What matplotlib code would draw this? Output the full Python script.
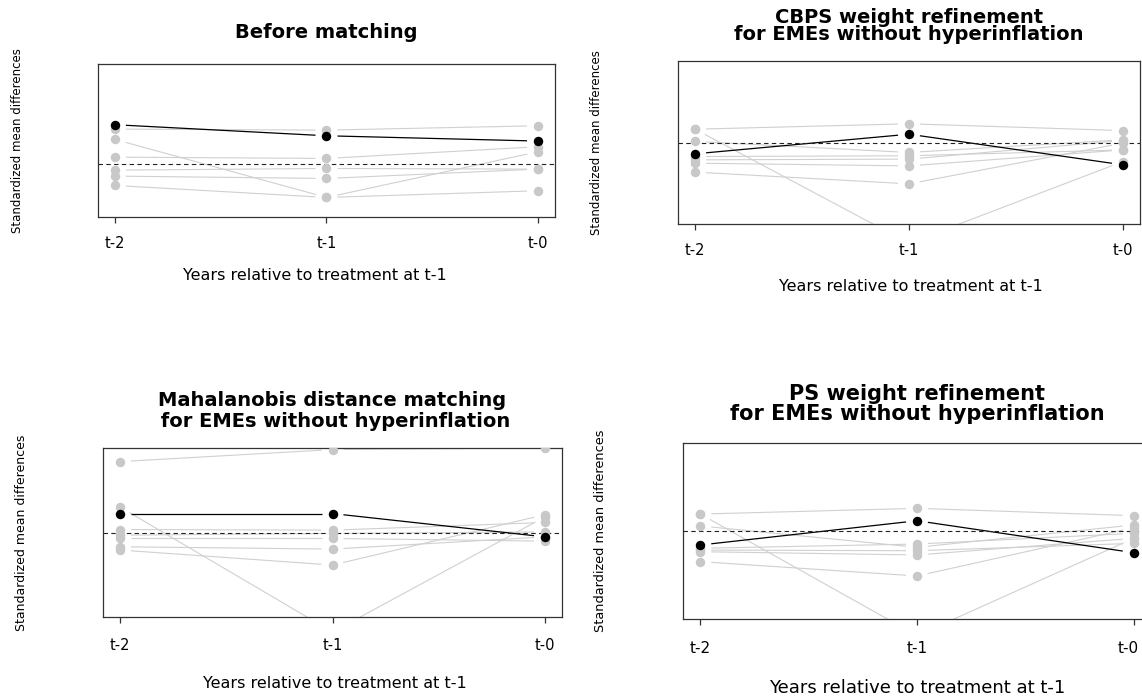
import numpy as np
import matplotlib
matplotlib.use("Agg")
import matplotlib.pyplot as plt
from matplotlib import transforms

W, H = 1142, 698

periods = ["t-2", "t-1", "t-0"]
xlabel_text = "Years relative to treatment at t-1"
ylabel_text = "Standardized mean differences"

titles = [
    "Before matching",
    "CBPS weight refinement\nfor EMEs without hyperinflation",
    "Mahalanobis distance matching\n for EMEs without hyperinflation",
    "PS weight refinement\nfor EMEs without hyperinflation",
]

# treated-period covariate (drawn in black) per panel
before_black = [0.417, 0.300, 0.244]
cbps_black = [-0.075, 0.055, -0.148]
maha_black = [0.121, 0.121, -0.028]
ps_black = [-0.086, 0.063, -0.133]

# other covariates (grey), one row per covariate: t-2, t-1, t-0
before_grey = [
    [0.371, 0.360, 0.406],
    [0.261, -0.353, 0.131],
    [0.074, 0.060, 0.184],
    [-0.064, -0.046, -0.053],
    [-0.127, -0.152, -0.053],
    [-0.226, -0.353, -0.282],
]
cbps_grey = [
    [0.088, 0.124, 0.079],
    [0.088, -0.667, -0.126],
    [0.007, -0.066, 0.018],
    [-0.093, -0.088, -0.049],
    [-0.115, -0.110, 0.013],
    [-0.137, -0.155, -0.049],
    [-0.196, -0.274, -0.004],
]
maha_grey = [
    [0.453, 0.530, 0.540],
    [0.163, -0.636, 0.100],
    [0.019, 0.015, 0.064],
    [-0.017, -0.006, 0.004],
    [-0.038, -0.038, -0.055],
    [-0.091, -0.106, -0.028],
    [-0.112, -0.208, 0.114],
]
ps_grey = [
    [0.104, 0.139, 0.094],
    [0.104, -0.642, -0.045],
    [0.031, -0.100, 0.037],
    [-0.106, -0.080, -0.014],
    [-0.117, -0.121, -0.076],
    [-0.127, -0.147, -0.045],
    [-0.188, -0.276, 0.020],
]

ylims = [(-0.56, 1.06), (-0.54, 0.54), (-0.54, 0.54), (-0.54, 0.54)]

# layout in pixels: box (x0, x1, y0, y1), title y's, tick-label y, xlabel pos, ylabel x
boxes = [(98, 555, 64, 217), (678, 1140, 61, 224), (103, 562, 448, 617), (683, 1151, 443, 619)]
title_y = [32, 26, 411, 404]
title_fs = [14, 14, 14, 15]
title_ls = [1.2, 0.82, 1.13, 1.05]
tick_fs = [10.5, 10.5, 10.5, 11]
ticklab_y = [243, 250, 645, 648]
xlab_x = [315, 911, 335, 917]
xlab_y = [275, 286, 683, 688]
xlab_fs = [11.5, 11.5, 11.5, 13]
ylab_x = [18, 597, 22, 600]
ylab_fs = [8.5, 8.5, 9, 9.3]

GREY_PT = "#c8c8c8"
GREY_LN = "#d0d0d0"


def px_to_fig(x, y):
    return x / W, 1 - y / H


def gapped_line(ax, ys, color, lw, gap=11):
    # R type="b": segments stop short of the points
    xs = np.arange(len(ys), dtype=float)
    pts = ax.transData.transform(np.column_stack([xs, ys]))
    inv = ax.transData.inverted()
    for a, b in zip(pts[:-1], pts[1:]):
        d = b - a
        L = np.hypot(*d)
        if L <= 2 * gap:
            continue
        u = d / L
        seg = inv.transform(np.array([a + u * gap, b - u * gap]))
        ax.plot(seg[:, 0], seg[:, 1], color=color, lw=lw, zorder=2, solid_capstyle="butt")


fig = plt.figure(figsize=(W / 100, H / 100), dpi=100)

panels = [
    (before_black, before_grey),
    (cbps_black, cbps_grey),
    (maha_black, maha_grey),
    (ps_black, ps_grey),
]

for i, (black, grey) in enumerate(panels):
    x0, x1, y0, y1 = boxes[i]
    ax = fig.add_axes([x0 / W, 1 - y1 / H, (x1 - x0) / W, (y1 - y0) / H])
    ax.set_xlim(-0.08, 2.08)
    ax.set_ylim(*ylims[i])
    for s in ax.spines.values():
        s.set_color("#333333")
        s.set_linewidth(0.9)
    ax.set_yticks([])
    ax.set_xticks([0, 1, 2])
    ax.set_xticklabels(periods, fontsize=tick_fs[i])
    pad_px = ticklab_y[i] - y1 - 6 - tick_fs[i] * 0.66
    ax.tick_params(axis="x", length=4.5, width=0.9, color="#333333", pad=pad_px * 0.72)
    if x1 > W:
        # keep the last label inside the picture
        lab = ax.get_xticklabels()[-1]
        lab.set_transform(lab.get_transform() + transforms.ScaledTranslation(-5 / 100, 0, fig.dpi_scale_trans))

    xs = np.arange(3)
    for row in grey:
        gapped_line(ax, row, GREY_LN, 0.8)
    gapped_line(ax, black, "black", 0.9)
    ax.axhline(0, color="#222222", lw=0.8, ls=(0, (4, 3)), zorder=3)
    for row in grey:
        ax.plot(xs, row, ls="none", marker="o", ms=5.8, mfc=GREY_PT, mec=GREY_PT, zorder=4)
    ax.plot(xs, black, ls="none", marker="o", ms=5.8, mfc="black", mec="black", zorder=5)

    cx = (x0 + x1) / 2
    fig.text(*px_to_fig(cx, title_y[i]), titles[i], ha="center", va="center",
             fontsize=title_fs[i], fontweight="bold", linespacing=title_ls[i])
    fig.text(*px_to_fig(xlab_x[i], xlab_y[i]), xlabel_text, ha="center", va="center",
             fontsize=xlab_fs[i])
    fig.text(*px_to_fig(ylab_x[i], (y0 + y1) / 2), ylabel_text, ha="center", va="center",
             rotation=90, fontsize=ylab_fs[i])

fig.savefig("out.png", dpi=100)
